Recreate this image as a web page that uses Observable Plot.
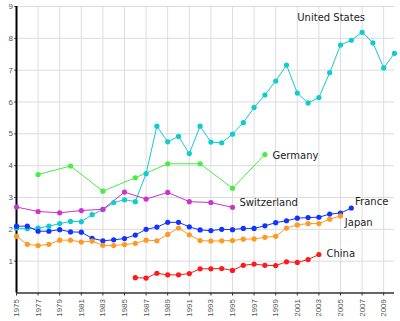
<!DOCTYPE html>
<html>
<head>
<meta charset="utf-8">
<script src="https://cdn.jsdelivr.net/npm/d3@7"></script>
<script src="https://cdn.jsdelivr.net/npm/@observablehq/plot@0.6"></script>
<style>
  html, body { margin: 0; padding: 0; background: #fff; }
  #chart svg { display: block; }
</style>
</head>
<body>
<div id="chart"></div>
<script>
const countries = ["United States", "Germany", "Switzerland", "France", "Japan", "China"];
const colors = ["#11cccc", "#44ee44", "#cc33cc", "#1133ff", "#ff9922", "#ff1a1a"];

const usYears = d3.range(1975, 2011);
const usValues = [2.04, 2.02, 2.04, 2.10, 2.18, 2.25, 2.24, 2.46, 2.62, 2.84, 2.93, 2.87,
  3.75, 5.24, 4.75, 4.92, 4.38, 5.24, 4.74, 4.72, 4.99, 5.35, 5.83, 6.22, 6.66, 7.16,
  6.28, 5.97, 6.14, 6.92, 7.79, 7.94, 8.19, 7.86, 7.07, 7.53];

const deYears = [1977, 1980, 1983, 1986, 1989, 1992, 1995, 1998];
const deValues = [3.72, 3.99, 3.20, 3.62, 4.06, 4.06, 3.29, 4.35];

const chYears = [1975, 1977, 1979, 1981, 1983, 1985, 1987, 1989, 1991, 1993, 1995];
const chValues = [2.70, 2.56, 2.52, 2.59, 2.63, 3.17, 2.95, 3.16, 2.87, 2.84, 2.69];

const frYears = d3.range(1975, 2007);
const frValues = [2.10, 2.10, 1.94, 1.94, 1.99, 1.92, 1.91, 1.72, 1.64, 1.67, 1.71, 1.82,
  2.00, 2.07, 2.22, 2.22, 2.08, 1.98, 1.96, 2.00, 1.99, 2.03, 2.03, 2.11, 2.21, 2.27,
  2.35, 2.37, 2.38, 2.48, 2.51, 2.67];

const jpYears = d3.range(1975, 2006);
const jpValues = [1.78, 1.53, 1.49, 1.53, 1.66, 1.66, 1.60, 1.63, 1.50, 1.49, 1.52, 1.56,
  1.66, 1.64, 1.84, 2.04, 1.83, 1.65, 1.63, 1.64, 1.65, 1.69, 1.70, 1.75, 1.78, 2.04,
  2.14, 2.18, 2.18, 2.32, 2.42];

const cnYears = d3.range(1986, 2004);
const cnValues = [0.48, 0.47, 0.62, 0.57, 0.57, 0.61, 0.76, 0.76, 0.77, 0.71, 0.87, 0.91,
  0.87, 0.86, 0.98, 0.96, 1.05, 1.21];

const labelYears = [2001.0, 1998.7, 1995.65, 2006.35, 2005.4, 2003.7];
const labelValues = [8.64, 4.31, 2.83, 2.88, 2.22, 1.24];

const xTicks = d3.range(1975, 2010, 2);
const yTicks = d3.range(1, 10);

const seriesYears = [usYears, deYears, chYears, frYears, jpYears, cnYears];
const seriesValues = [usValues, deValues, chValues, frValues, jpValues, cnValues];
const data = [];
countries.forEach((c, i) => {
  seriesYears[i].forEach((yr, j) => data.push({country: c, year: yr, value: seriesValues[i][j]}));
});
const labels = countries.map((c, i) => ({country: c, year: labelYears[i], value: labelValues[i]}));

const chart = Plot.plot({
  width: 400,
  height: 321,
  marginLeft: 16,
  marginRight: 6,
  marginTop: 6,
  marginBottom: 28.5,
  style: {fontFamily: "Liberation Sans, Arial, sans-serif", fontSize: "8px", color: "#555", background: "#fff"},
  x: {domain: [1975, 2010], label: null},
  y: {domain: [0, 9], label: null},
  color: {domain: countries, range: colors},
  marks: [
    Plot.gridX(xTicks, {stroke: "#dcdcdc", strokeOpacity: 1}),
    Plot.gridY(yTicks, {stroke: "#dcdcdc", strokeOpacity: 1}),
    Plot.axisX({ticks: xTicks, tickFormat: "d", tickRotate: -90, tickSize: 3, tickPadding: 3, stroke: "#333", fill: "#555"}),
    Plot.axisY({ticks: yTicks, tickSize: 2, tickPadding: 1.5, fill: "#555"}),
    Plot.ruleY([0], {stroke: "#333", strokeWidth: 1.5}),
    Plot.ruleX([1975], {stroke: "#000", strokeWidth: 2}),
    Plot.line(data, {x: "year", y: "value", z: "country", stroke: "country", strokeWidth: 1}),
    Plot.dot(data, {x: "year", y: "value", fill: "country", r: 2.6}),
    Plot.text(labels, {x: "year", y: "value", text: "country", textAnchor: "start", fill: "#222",
      fontFamily: "DejaVu Sans, Verdana, sans-serif", fontSize: 10})
  ]
});
document.getElementById("chart").append(chart);
</script>
</body>
</html>
